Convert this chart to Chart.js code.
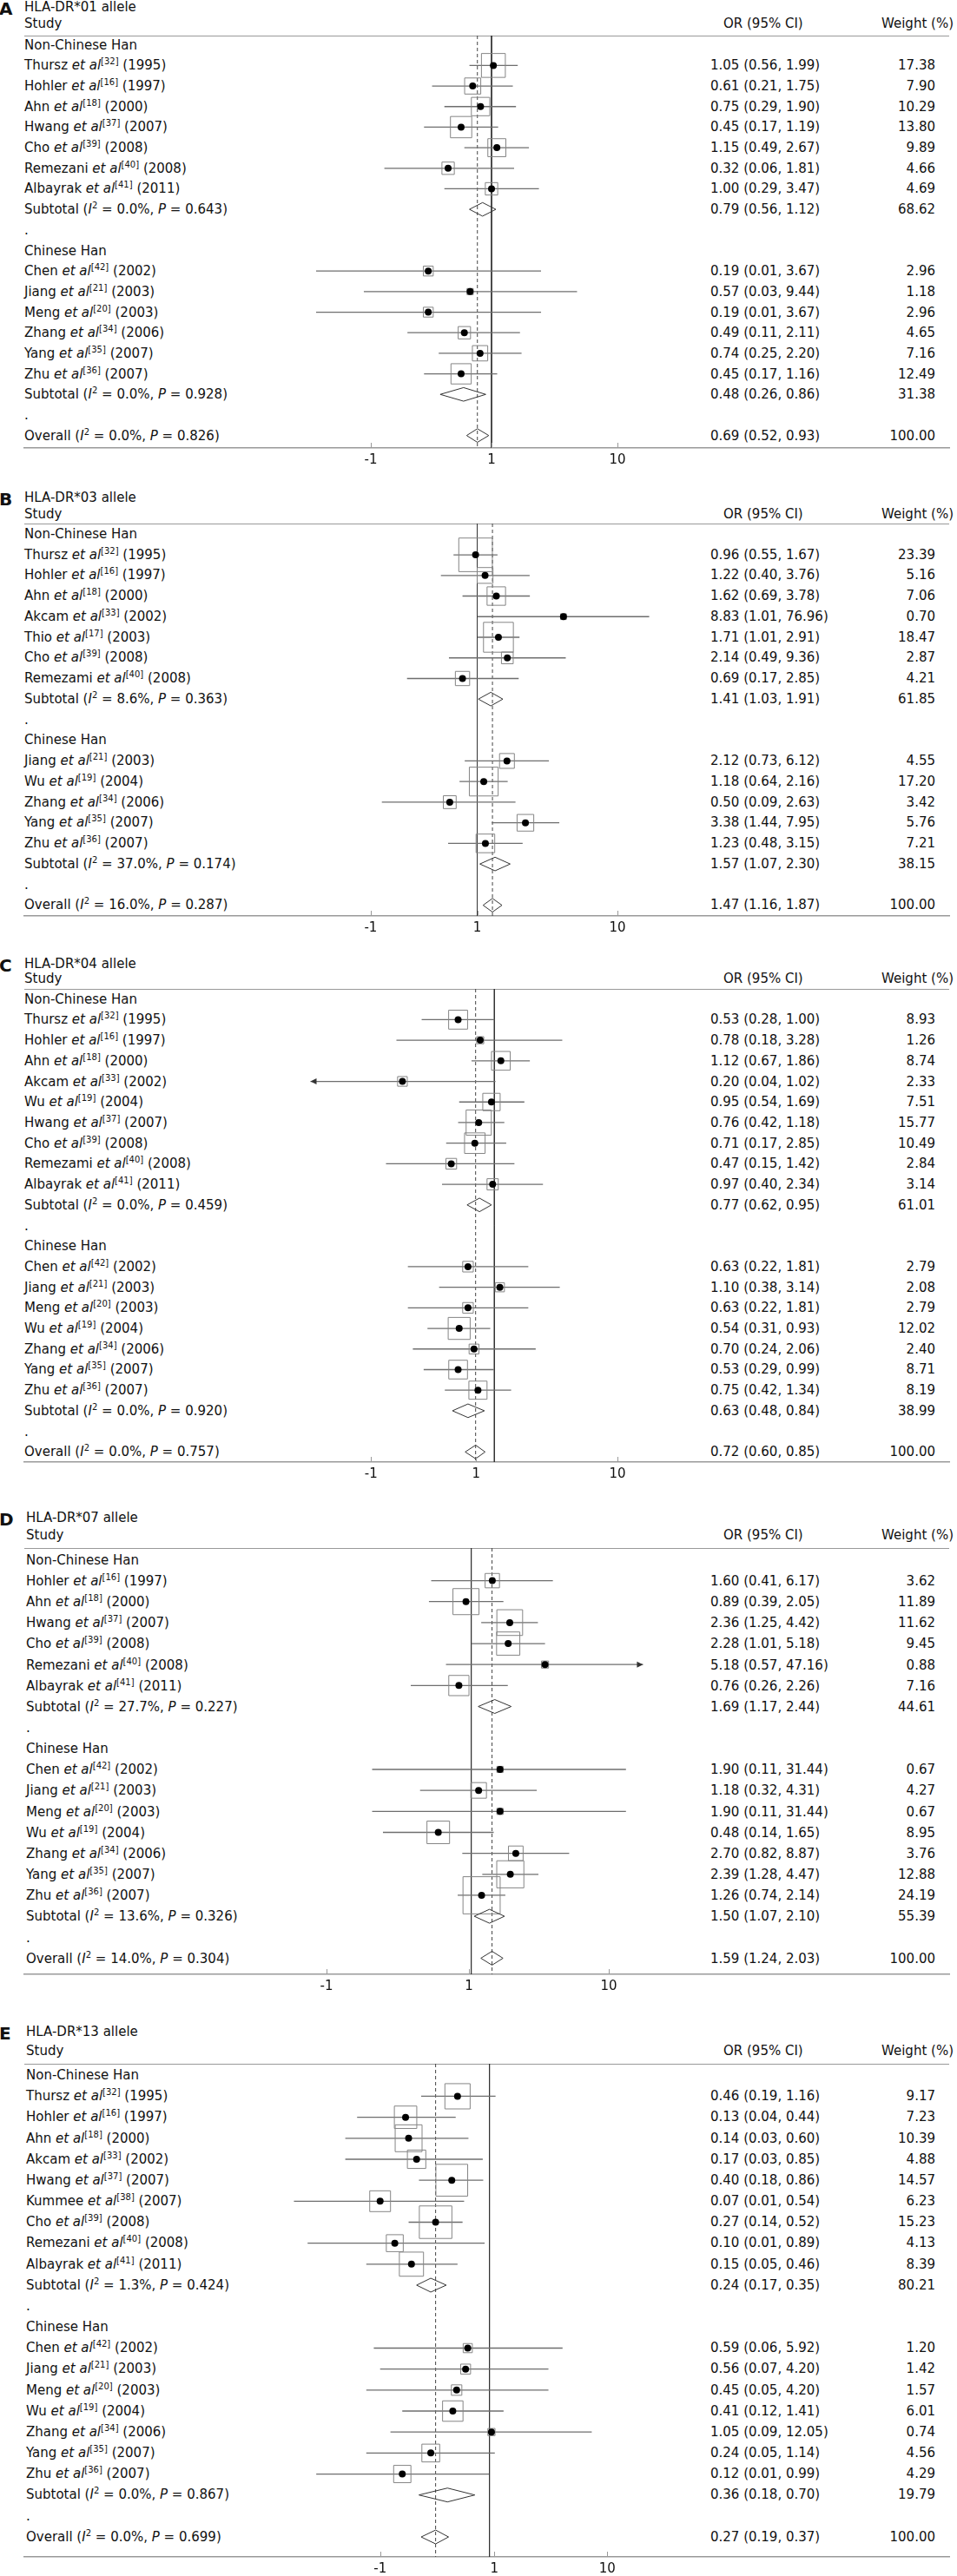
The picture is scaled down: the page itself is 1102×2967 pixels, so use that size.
<!DOCTYPE html>
<html><head><meta charset="utf-8">
<script src="https://cdn.jsdelivr.net/npm/chart.js@4.4.0/dist/chart.umd.min.js"></script>
<style>
html,body{margin:0;padding:0;background:#fff;}
#page{position:relative;width:1102px;height:2967px;overflow:hidden;font-family:'DejaVu Sans',sans-serif;font-size:15px;color:#111;}
.t{position:absolute;white-space:nowrap;line-height:18px;height:18px;}
.t sup{font-size:10px;line-height:0;vertical-align:6px;}
.lab{font-weight:bold;font-size:20px;line-height:22px;height:22px;}
.rule{position:absolute;height:1px;background:#999;}
canvas{position:absolute;left:0;}
</style></head><body><div id="page"></div>
<script>
// ---------------- shared ----------------
const groupNames = ["Non-Chinese Han", "Chinese Han"];
const tickLabels = ["-1", "1", "10"];

// ---------------- Panel A: HLA-DR*01 ----------------
const titleA = "HLA-DR*01 allele";
const authorsA = ["Thursz","Hohler","Ahn","Hwang","Cho","Remezani","Albayrak","Chen","Jiang","Meng","Zhang","Yang","Zhu"];
const refsA = [32,16,18,37,39,40,41,42,21,20,34,35,36];
const yearsA = [1995,1997,2000,2007,2008,2008,2011,2002,2003,2003,2006,2007,2007];
const groupA = [0,0,0,0,0,0,0,1,1,1,1,1,1];
const orA = [1.05,0.61,0.75,0.45,1.15,0.32,1.00,0.19,0.57,0.19,0.49,0.74,0.45];
const loA = [0.56,0.21,0.29,0.17,0.49,0.06,0.29,0.01,0.035,0.01,0.11,0.25,0.17];
const hiA = [1.99,1.75,1.90,1.19,2.67,1.81,3.47,3.67,9.44,3.67,2.11,2.20,1.16];
const ciA = ["1.05 (0.56, 1.99)","0.61 (0.21, 1.75)","0.75 (0.29, 1.90)","0.45 (0.17, 1.19)","1.15 (0.49, 2.67)","0.32 (0.06, 1.81)","1.00 (0.29, 3.47)","0.19 (0.01, 3.67)","0.57 (0.03, 9.44)","0.19 (0.01, 3.67)","0.49 (0.11, 2.11)","0.74 (0.25, 2.20)","0.45 (0.17, 1.16)"];
const wA = [17.38,7.90,10.29,13.80,9.89,4.66,4.69,2.96,1.18,2.96,4.65,7.16,12.49];
const subOrA = [0.79,0.48], subLoA = [0.56,0.26], subHiA = [1.12,0.86], subWA = [68.62,31.38];
const subI2A = ["0.0%","0.0%"], subPA = ["0.643","0.928"];
const overallA = [0.69,0.52,0.93], overallI2A = "0.0%", overallPA = "0.826";
const ticksA = [0.042, 1, 27.3];
const clipA = [0, Infinity];

// ---------------- Panel B: HLA-DR*03 ----------------
const titleB = "HLA-DR*03 allele";
const authorsB = ["Thursz","Hohler","Ahn","Akcam","Thio","Cho","Remezami","Jiang","Wu","Zhang","Yang","Zhu"];
const refsB = [32,16,18,33,17,39,40,21,19,34,35,36];
const yearsB = [1995,1997,2000,2002,2003,2008,2008,2003,2004,2006,2007,2007];
const groupB = [0,0,0,0,0,0,0,1,1,1,1,1];
const orB = [0.96,1.22,1.62,8.83,1.71,2.14,0.69,2.12,1.18,0.50,3.38,1.23];
const loB = [0.55,0.40,0.69,1.01,1.01,0.49,0.17,0.73,0.64,0.09,1.44,0.48];
const hiB = [1.67,3.76,3.78,76.96,2.91,9.36,2.85,6.12,2.16,2.63,7.95,3.15];
const ciB = ["0.96 (0.55, 1.67)","1.22 (0.40, 3.76)","1.62 (0.69, 3.78)","8.83 (1.01, 76.96)","1.71 (1.01, 2.91)","2.14 (0.49, 9.36)","0.69 (0.17, 2.85)","2.12 (0.73, 6.12)","1.18 (0.64, 2.16)","0.50 (0.09, 2.63)","3.38 (1.44, 7.95)","1.23 (0.48, 3.15)"];
const wB = [23.39,5.16,7.06,0.70,18.47,2.87,4.21,4.55,17.20,3.42,5.76,7.21];
const subOrB = [1.41,1.57], subLoB = [1.03,1.07], subHiB = [1.91,2.30], subWB = [61.85,38.15];
const subI2B = ["8.6%","37.0%"], subPB = ["0.363","0.174"];
const overallB = [1.47,1.16,1.87], overallI2B = "16.0%", overallPB = "0.287";
const ticksB = [0.068, 1, 34.5];
const clipB = [0, Infinity];

// ---------------- Panel C: HLA-DR*04 ----------------
const titleC = "HLA-DR*04 allele";
const authorsC = ["Thursz","Hohler","Ahn","Akcam","Wu","Hwang","Cho","Remezami","Albayrak","Chen","Jiang","Meng","Wu","Zhang","Yang","Zhu"];
const refsC = [32,16,18,33,19,37,39,40,41,42,21,20,19,34,35,36];
const yearsC = [1995,1997,2000,2002,2004,2007,2008,2008,2011,2002,2003,2003,2004,2006,2007,2007];
const groupC = [0,0,0,0,0,0,0,0,0,1,1,1,1,1,1,1];
const orC = [0.53,0.78,1.12,0.20,0.95,0.76,0.71,0.47,0.97,0.63,1.10,0.63,0.54,0.70,0.53,0.75];
const loC = [0.28,0.18,0.67,0.04,0.54,0.53,0.43,0.15,0.40,0.22,0.38,0.22,0.31,0.24,0.29,0.42];
const hiC = [1.00,3.28,1.86,1.02,1.69,1.19,1.23,1.42,2.34,1.81,3.14,1.81,0.93,2.06,0.99,1.34];
const ciC = ["0.53 (0.28, 1.00)","0.78 (0.18, 3.28)","1.12 (0.67, 1.86)","0.20 (0.04, 1.02)","0.95 (0.54, 1.69)","0.76 (0.42, 1.18)","0.71 (0.17, 2.85)","0.47 (0.15, 1.42)","0.97 (0.40, 2.34)","0.63 (0.22, 1.81)","1.10 (0.38, 3.14)","0.63 (0.22, 1.81)","0.54 (0.31, 0.93)","0.70 (0.24, 2.06)","0.53 (0.29, 0.99)","0.75 (0.42, 1.34)"];
const wC = [8.93,1.26,8.74,2.33,7.51,15.77,10.49,2.84,3.14,2.79,2.08,2.79,12.02,2.40,8.71,8.19];
const subOrC = [0.77,0.63], subLoC = [0.62,0.48], subHiC = [0.95,0.84], subWC = [61.01,38.99];
const subI2C = ["0.0%","0.0%"], subPC = ["0.459","0.920"];
const overallC = [0.72,0.60,0.85], overallI2C = "0.0%", overallPC = "0.757";
const ticksC = [0.1155, 0.7256, 8.615];
const clipC = [0.04, Infinity];

// ---------------- Panel D: HLA-DR*07 ----------------
const titleD = "HLA-DR*07 allele";
const authorsD = ["Hohler","Ahn","Hwang","Cho","Remezani","Albayrak","Chen","Jiang","Meng","Wu","Zhang","Yang","Zhu"];
const refsD = [16,18,37,39,40,41,42,21,20,19,34,35,36];
const yearsD = [1997,2000,2007,2008,2008,2011,2002,2003,2003,2004,2006,2007,2007];
const groupD = [0,0,0,0,0,0,1,1,1,1,1,1,1];
const orD = [1.60,0.89,2.36,2.28,5.18,0.76,1.90,1.18,1.90,0.48,2.70,2.39,1.26];
const loD = [0.41,0.39,1.25,1.01,0.57,0.26,0.11,0.32,0.11,0.14,0.82,1.28,0.74];
const hiD = [6.17,2.05,4.42,5.18,47.16,2.26,31.44,4.31,31.44,1.65,8.87,4.47,2.14];
const ciD = ["1.60 (0.41, 6.17)","0.89 (0.39, 2.05)","2.36 (1.25, 4.42)","2.28 (1.01, 5.18)","5.18 (0.57, 47.16)","0.76 (0.26, 2.26)","1.90 (0.11, 31.44)","1.18 (0.32, 4.31)","1.90 (0.11, 31.44)","0.48 (0.14, 1.65)","2.70 (0.82, 8.87)","2.39 (1.28, 4.47)","1.26 (0.74, 2.14)"];
const wD = [3.62,11.89,11.62,9.45,0.88,7.16,0.67,4.27,0.67,8.95,3.76,12.88,24.19];
const subOrD = [1.69,1.50], subLoD = [1.17,1.07], subHiD = [2.44,2.10], subWD = [44.61,55.39];
const subI2D = ["27.7%","13.6%"], subPD = ["0.227","0.326"];
const overallD = [1.59,1.24,2.03], overallI2D = "14.0%", overallPD = "0.304";
const ticksD = [0.0398, 0.951, 21.4];
const clipD = [0, 46];

// ---------------- Panel E: HLA-DR*13 ----------------
const titleE = "HLA-DR*13 allele";
const authorsE = ["Thursz","Hohler","Ahn","Akcam","Hwang","Kummee","Cho","Remezani","Albayrak","Chen","Jiang","Meng","Wu","Zhang","Yang","Zhu"];
const refsE = [32,16,18,33,37,38,39,40,41,42,21,20,19,34,35,36];
const yearsE = [1995,1997,2000,2002,2007,2007,2008,2008,2011,2002,2003,2003,2004,2006,2007,2007];
const groupE = [0,0,0,0,0,0,0,0,0,1,1,1,1,1,1,1];
const orE = [0.46,0.13,0.14,0.17,0.40,0.07,0.27,0.10,0.15,0.59,0.56,0.45,0.41,1.05,0.24,0.12];
const loE = [0.19,0.04,0.03,0.03,0.18,0.0086,0.14,0.012,0.05,0.06,0.07,0.05,0.12,0.09,0.05,0.0148];
const hiE = [1.16,0.44,0.60,0.85,0.86,0.54,0.52,0.89,0.46,5.92,4.20,4.20,1.41,12.05,1.14,0.99];
const ciE = ["0.46 (0.19, 1.16)","0.13 (0.04, 0.44)","0.14 (0.03, 0.60)","0.17 (0.03, 0.85)","0.40 (0.18, 0.86)","0.07 (0.01, 0.54)","0.27 (0.14, 0.52)","0.10 (0.01, 0.89)","0.15 (0.05, 0.46)","0.59 (0.06, 5.92)","0.56 (0.07, 4.20)","0.45 (0.05, 4.20)","0.41 (0.12, 1.41)","1.05 (0.09, 12.05)","0.24 (0.05, 1.14)","0.12 (0.01, 0.99)"];
const wE = [9.17,7.23,10.39,4.88,14.57,6.23,15.23,4.13,8.39,1.20,1.42,1.57,6.01,0.74,4.56,4.29];
const subOrE = [0.24,0.36], subLoE = [0.17,0.18], subHiE = [0.35,0.70], subWE = [80.21,19.79];
const subI2E = ["1.3%","0.0%"], subPE = ["0.424","0.867"];
const overallE = [0.27,0.19,0.37], overallI2E = "0.0%", overallPE = "0.699";
const ticksE = [0.0701, 1.128, 17.58];
const clipE = [0, Infinity];

// ---------------- layout (positions / sizes only) ----------------
const layoutA = {title:7.5, study:27, rule:41, row0:51.7, rowH:23.68, axis:516, x1:566, ppd:101, box:6.6, textX:28};
const layoutB = {title:573.3, study:591.7, rule:602.7, row0:615, rowH:23.74, axis:1055, x1:549.5, ppd:105, box:8.0, textX:28};
const layoutC = {title:1110, study:1127.3, rule:1139, row0:1150.7, rowH:23.71, axis:1684, x1:569.3, ppd:151.5, box:7.3, textX:28};
const layoutD = {title:1748.3, study:1768.3, rule:1783.3, row0:1796.7, rowH:24.16, axis:2274.3, x1:542.6, ppd:119, box:8.7, textX:30};
const layoutE = {title:2340, study:2361.7, rule:2376.7, row0:2390, rowH:24.17, axis:2945, x1:563.6, ppd:109, box:9.6, textX:30};

const panels = [
  {letter:"A", title:titleA, authors:authorsA, refs:refsA, years:yearsA, groups:groupA, or:orA, lo:loA, hi:hiA, ci:ciA, w:wA, subOr:subOrA, subLo:subLoA, subHi:subHiA, subW:subWA, subI2:subI2A, subP:subPA, ov:overallA, ovI2:overallI2A, ovP:overallPA, ticks:ticksA, clip:clipA, L:layoutA},
  {letter:"B", title:titleB, authors:authorsB, refs:refsB, years:yearsB, groups:groupB, or:orB, lo:loB, hi:hiB, ci:ciB, w:wB, subOr:subOrB, subLo:subLoB, subHi:subHiB, subW:subWB, subI2:subI2B, subP:subPB, ov:overallB, ovI2:overallI2B, ovP:overallPB, ticks:ticksB, clip:clipB, L:layoutB},
  {letter:"C", title:titleC, authors:authorsC, refs:refsC, years:yearsC, groups:groupC, or:orC, lo:loC, hi:hiC, ci:ciC, w:wC, subOr:subOrC, subLo:subLoC, subHi:subHiC, subW:subWC, subI2:subI2C, subP:subPC, ov:overallC, ovI2:overallI2C, ovP:overallPC, ticks:ticksC, clip:clipC, L:layoutC},
  {letter:"D", title:titleD, authors:authorsD, refs:refsD, years:yearsD, groups:groupD, or:orD, lo:loD, hi:hiD, ci:ciD, w:wD, subOr:subOrD, subLo:subLoD, subHi:subHiD, subW:subWD, subI2:subI2D, subP:subPD, ov:overallD, ovI2:overallI2D, ovP:overallPD, ticks:ticksD, clip:clipD, L:layoutD},
  {letter:"E", title:titleE, authors:authorsE, refs:refsE, years:yearsE, groups:groupE, or:orE, lo:loE, hi:hiE, ci:ciE, w:wE, subOr:subOrE, subLo:subLoE, subHi:subHiE, subW:subWE, subI2:subI2E, subP:subPE, ov:overallE, ovI2:overallI2E, ovP:overallPE, ticks:ticksE, clip:clipE, L:layoutE}
];

const PAGE_W = 1102, PAD_L = 28, PAD_R = 9, AXIS_H = 34;
const OR_X = 818, W_RIGHT = 1077, OR_HEAD_X = 833, W_HEAD_RIGHT = 1098;
const DIA_H = 0.33;
const fmt = v => v.toFixed(2);

Chart.defaults.font.family = "'DejaVu Sans', sans-serif";
Chart.defaults.font.size = 15;
Chart.defaults.color = '#111';

const page = document.getElementById('page');
function addText(html, x, y, cls, right) {
  const d = document.createElement('div');
  d.className = 't' + (cls ? ' ' + cls : '');
  d.innerHTML = html;
  d.style.top = (y - (cls === 'lab' ? 11 : 9)) + 'px';
  if (right) { d.style.right = (PAGE_W - x) + 'px'; d.style.textAlign = 'right'; }
  else d.style.left = x + 'px';
  page.appendChild(d);
}

function buildPanel(P) {
  const L = P.L;
  const ry = i => L.row0 + i * L.rowH;
  addText(P.letter, -1, L.title + 2, 'lab');
  addText(P.title, L.textX, L.title);
  addText('Study', L.textX, L.study);
  addText('OR (95% CI)', OR_HEAD_X, L.study);
  addText('Weight (%)', W_HEAD_RIGHT, L.study, '', true);
  const rule = document.createElement('div');
  rule.className = 'rule';
  rule.style.top = L.rule + 'px'; rule.style.left = PAD_L + 'px'; rule.style.width = (PAGE_W - PAD_L - PAD_R) + 'px';
  page.appendChild(rule);

  let r = 0; const rowOf = []; const subRow = [];
  for (let g = 0; g < 2; g++) {
    addText(groupNames[g], L.textX, ry(r)); r++;
    P.groups.forEach((gg, i) => {
      if (gg !== g) return;
      rowOf[i] = r;
      addText(`${P.authors[i]} <i>et al</i><sup>[${P.refs[i]}]</sup> (${P.years[i]})`, L.textX, ry(r));
      addText(P.ci[i], OR_X, ry(r));
      addText(fmt(P.w[i]), W_RIGHT, ry(r), '', true);
      r++;
    });
    subRow[g] = r;
    addText(`Subtotal (<i>I</i><sup>2</sup> = ${P.subI2[g]}, <i>P</i> = ${P.subP[g]})`, L.textX, ry(r));
    addText(`${fmt(P.subOr[g])} (${fmt(P.subLo[g])}, ${fmt(P.subHi[g])})`, OR_X, ry(r));
    addText(fmt(P.subW[g]), W_RIGHT, ry(r), '', true);
    r++;
    addText('.', L.textX, ry(r)); r++;
  }
  const ovRow = r;
  addText(`Overall (<i>I</i><sup>2</sup> = ${P.ovI2}, <i>P</i> = ${P.ovP})`, L.textX, ry(r));
  addText(`${fmt(P.ov[0])} (${fmt(P.ov[1])}, ${fmt(P.ov[2])})`, OR_X, ry(r));
  addText('100.00', W_RIGHT, ry(r), '', true);

  // ---- chart ----
  const canvas = document.createElement('canvas');
  const H = Math.round(L.axis - L.rule) + AXIS_H;
  canvas.width = PAGE_W; canvas.height = H;
  canvas.style.width = PAGE_W + 'px'; canvas.style.height = H + 'px';
  canvas.style.top = L.rule + 'px';
  page.appendChild(canvas);

  const areaH = Math.round(L.axis - L.rule);
  const yMin = (L.rule - L.row0) / L.rowH;
  const yMax = yMin + areaH / L.rowH;
  const xMin = Math.pow(10, (PAD_L - L.x1) / L.ppd);
  const xMax = Math.pow(10, (PAGE_W - PAD_R - L.x1) / L.ppd);

  const ds = [];
  ds.push({data:[{x:1, y:yMin}, {x:1, y:yMax}], showLine:true, borderColor:'#333', borderWidth:1, pointRadius:0, order:10});
  ds.push({data:[{x:P.ov[0], y:yMin}, {x:P.ov[0], y:yMax}], showLine:true, borderColor:'#444', borderWidth:1, borderDash:[4,3], pointRadius:0, order:10});
  const arrows = [];
  P.or.forEach((v, i) => {
    const lo = Math.max(P.lo[i], P.clip[0]);
    const hi = Math.min(P.hi[i], P.clip[1]);
    if (P.lo[i] <= P.clip[0]) arrows.push({x:lo, y:rowOf[i], dir:-1});
    if (P.hi[i] > P.clip[1]) arrows.push({x:hi, y:rowOf[i], dir:1});
    ds.push({data:[{x:lo, y:rowOf[i]}, {x:hi, y:rowOf[i]}], showLine:true, borderColor:'#6e6e6e', borderWidth:1.3, pointRadius:0, order:8});
  });
  ds.push({data:P.or.map((v, i) => ({x:v, y:rowOf[i]})), pointStyle:'rect',
    pointRadius: c => L.box * Math.sqrt(P.w[c.dataIndex]) / Math.SQRT2,
    borderColor:'#858585', borderWidth:1, backgroundColor:'rgba(0,0,0,0)', order:6});
  const diamonds = [[P.subOr[0], P.subLo[0], P.subHi[0], subRow[0]], [P.subOr[1], P.subLo[1], P.subHi[1], subRow[1]], [P.ov[0], P.ov[1], P.ov[2], ovRow]];
  diamonds.forEach(([o, lo, hi, rr]) => {
    ds.push({data:[{x:lo, y:rr}, {x:o, y:rr - DIA_H}, {x:hi, y:rr}, {x:o, y:rr + DIA_H}, {x:lo, y:rr}],
      showLine:true, borderColor:'#333', borderWidth:1, pointRadius:0, backgroundColor:'#fff', fill:true, order:5});
  });
  ds.push({data:P.or.map((v, i) => ({x:v, y:rowOf[i]})), pointStyle:'circle', pointRadius:4,
    backgroundColor:'#000', borderColor:'#000', borderWidth:0, order:1});

  const extras = {
    id: 'extras' + P.letter,
    afterDatasetsDraw(chart) {
      const xs = chart.scales.x, ys = chart.scales.y, ctx = chart.ctx, b = chart.chartArea.bottom;
      ctx.save();
      ctx.strokeStyle = '#999'; ctx.lineWidth = 1;
      xs.ticks.forEach(t => {
        const px = Math.round(xs.getPixelForValue(t.value)) + 0.5;
        ctx.beginPath(); ctx.moveTo(px, b); ctx.lineTo(px, b - 6); ctx.stroke();
      });
      ctx.fillStyle = '#333';
      arrows.forEach(a => {
        const px = xs.getPixelForValue(a.x), py = ys.getPixelForValue(a.y);
        ctx.beginPath();
        ctx.moveTo(px, py);
        ctx.lineTo(px - a.dir * 7, py - 3.5);
        ctx.lineTo(px - a.dir * 7, py + 3.5);
        ctx.closePath(); ctx.fill();
      });
      ctx.restore();
    }
  };

  new Chart(canvas, {
    type: 'scatter',
    data: {datasets: ds},
    options: {
      responsive: false, animation: false, devicePixelRatio: 1,
      events: [],
      layout: {padding: {left: PAD_L, right: PAD_R, top: 0, bottom: 0}, autoPadding: false},
      plugins: {legend: {display: false}, tooltip: {enabled: false}},
      scales: {
        x: {
          type: 'logarithmic', position: 'bottom', min: xMin, max: xMax, bounds: 'data',
          grid: {display: false, drawTicks: false},
          border: {display: true, color: '#999', width: 1.5},
          ticks: {autoSkip: false, maxRotation: 0, padding: 5, color: '#111',
            font: {family: "'DejaVu Sans', sans-serif", size: 15},
            callback: (v, i) => tickLabels[i]},
          afterBuildTicks: s => { s.ticks = P.ticks.map(v => ({value: v})); },
          afterFit: s => { s.height = AXIS_H; }
        },
        y: {type: 'linear', display: false, reverse: true, min: yMin, max: yMax}
      }
    },
    plugins: [extras]
  });
}

panels.forEach(buildPanel);
</script></body></html>
